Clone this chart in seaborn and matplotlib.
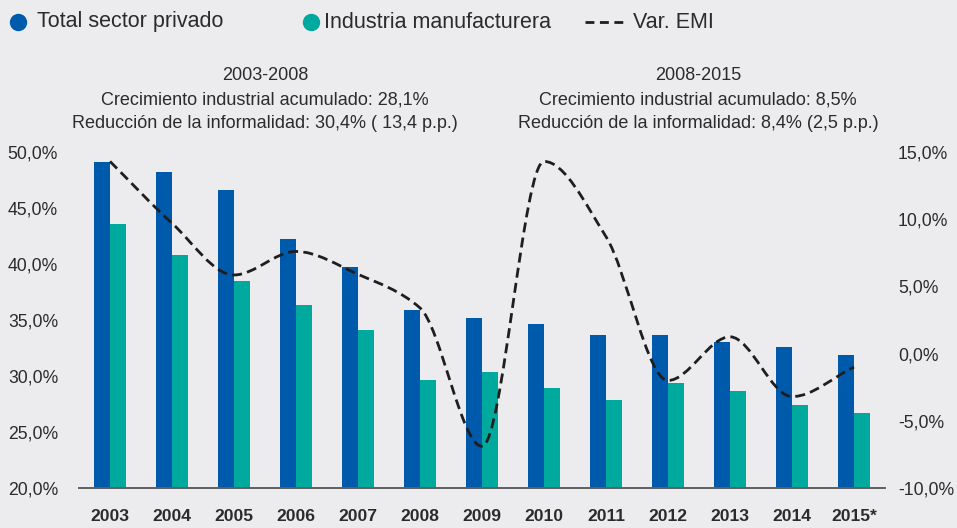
import numpy as np
import pandas as pd
import matplotlib
matplotlib.use("Agg")
import matplotlib.pyplot as plt
import seaborn as sns
from matplotlib.path import Path
from matplotlib.patches import PathPatch
from matplotlib.lines import Line2D

# ---------------- data ----------------
years = ["2003", "2004", "2005", "2006", "2007", "2008", "2009",
         "2010", "2011", "2012", "2013", "2014", "2015*"]
total_privado = [49.1, 48.2, 46.6, 42.2, 39.7, 35.9, 35.2,
                 34.6, 33.7, 33.7, 33.0, 32.6, 31.9]
industria = [43.6, 40.8, 38.5, 36.3, 34.1, 29.6, 30.4,
             28.9, 27.9, 29.4, 28.7, 27.4, 26.7]
var_emi = [14.3, 9.7, 5.85, 7.6, 5.9, 3.4, -6.9,
           14.3, 8.7, -2.0, 1.25, -3.2, -1.0]

series_names = ["Total sector privado", "Industria manufacturera"]
line_name = "Var. EMI"
left_ticks = [20, 25, 30, 35, 40, 45, 50]
right_ticks = [-10, -5, 0, 5, 10, 15]
block1 = ["2003-2008",
          "Crecimiento industrial acumulado: 28,1%",
          "Reducción de la informalidad: 30,4% ( 13,4 p.p.)"]
block2 = ["2008-2015",
          "Crecimiento industrial acumulado: 8,5%",
          "Reducción de la informalidad: 8,4% (2,5 p.p.)"]

# ---------------- style ----------------
BLUE = "#005AAB"
TEAL = "#00A99D"
BG = "#ECECEE"
TXT = "#2b2b2b"

sns.set_style("white")
plt.rcParams["font.family"] = ["Liberation Sans", "DejaVu Sans"]

W, H = 957, 528
fig = plt.figure(figsize=(W / 100, H / 100), dpi=100)
fig.patch.set_facecolor(BG)
ax = fig.add_axes([79 / W, 1 - 488 / H, (885 - 79) / W, (488 - 152) / H])
ax.set_facecolor(BG)

df = pd.DataFrame({
    "year": years * 2,
    "serie": [series_names[0]] * len(years) + [series_names[1]] * len(years),
    "value": total_privado + industria,
})
sns.barplot(data=df, x="year", y="value", hue="serie",
            palette={series_names[0]: BLUE, series_names[1]: TEAL},
            width=0.52, saturation=1, linewidth=0, legend=False, ax=ax)

ax.set_ylim(20, 50)
ax.set_xlim(-0.5, len(years) - 0.5)
ax.set_xlabel("")
ax.set_ylabel("")
ax.set_yticks(left_ticks)
ax.set_yticklabels([f"{v:.1f}".replace(".", ",") + "%" for v in left_ticks])
ax.tick_params(axis="y", length=0, pad=15, labelsize=12.7, labelcolor=TXT)
ax.tick_params(axis="x", length=0, pad=15, labelsize=12.6, labelcolor=TXT)
for lab in ax.get_xticklabels():
    lab.set_fontweight("bold")
for s in ["top", "left", "right"]:
    ax.spines[s].set_visible(False)
ax.spines["bottom"].set_color("#5f5f5f")
ax.spines["bottom"].set_linewidth(1.4)
ax.grid(False)

# ---------------- right axis, smooth dashed line ----------------
ax2 = ax.twinx()
ax2.set_ylim(-10, 15)
ax2.set_yticks(right_ticks)
ax2.set_yticklabels([f"{v:.1f}".replace(".", ",") + "%" for v in right_ticks])
ax2.tick_params(axis="y", length=0, pad=9.4, labelsize=12.7, labelcolor=TXT)
for s in ["top", "left", "right", "bottom"]:
    ax2.spines[s].set_visible(False)
ax2.grid(False)

xs = np.arange(len(years), dtype=float)
ys = np.asarray(var_emi, dtype=float)
d = np.diff(ys)
m = np.zeros_like(ys)
m[0], m[-1] = d[0], d[-1]
for k in range(1, len(ys) - 1):
    if d[k - 1] * d[k] > 0:
        m[k] = 2.0 / (1.0 / d[k - 1] + 1.0 / d[k])
verts = [(xs[0], ys[0])]
codes = [Path.MOVETO]
for k in range(len(ys) - 1):
    verts += [(xs[k] + 1 / 3, ys[k] + m[k] / 3),
              (xs[k + 1] - 1 / 3, ys[k + 1] - m[k + 1] / 3),
              (xs[k + 1], ys[k + 1])]
    codes += [Path.CURVE4] * 3
ax2.add_patch(PathPatch(Path(verts, codes), facecolor="none",
                        edgecolor="#1e1e1e", linewidth=2.0,
                        linestyle=(0, (3.6, 1.9)), capstyle="butt",
                        zorder=5, clip_on=False))

# ---------------- legend (manual) ----------------
ly = 1 - 22 / H
fig.add_artist(Line2D([18 / W], [ly], marker="o", markersize=11.5,
                      color=BLUE, linestyle="none", transform=fig.transFigure))
fig.text(37 / W, ly, series_names[0], fontsize=15.5, color=TXT,
         va="center", ha="left")
fig.add_artist(Line2D([311 / W], [ly], marker="o", markersize=11.5,
                      color=TEAL, linestyle="none", transform=fig.transFigure))
fig.text(324 / W, ly, series_names[1], fontsize=15.5, color=TXT,
         va="center", ha="left")
fig.add_artist(Line2D([585 / W, 627 / W], [ly, ly], color="#1e1e1e",
                      linewidth=2.0, linestyle=(0, (3.2, 2.0)),
                      transform=fig.transFigure))
fig.text(633 / W, ly, line_name, fontsize=15.5, color=TXT,
         va="center", ha="left")

# ---------------- annotations ----------------
for cx, block in [(265, block1), (698, block2)]:
    for i, line in enumerate(block):
        fig.text(cx / W, 1 - (76 + 24 * i) / H, line, fontsize=13,
                 color=TXT, ha="center", va="center")

fig.savefig("out.png", dpi=100, facecolor=BG)
